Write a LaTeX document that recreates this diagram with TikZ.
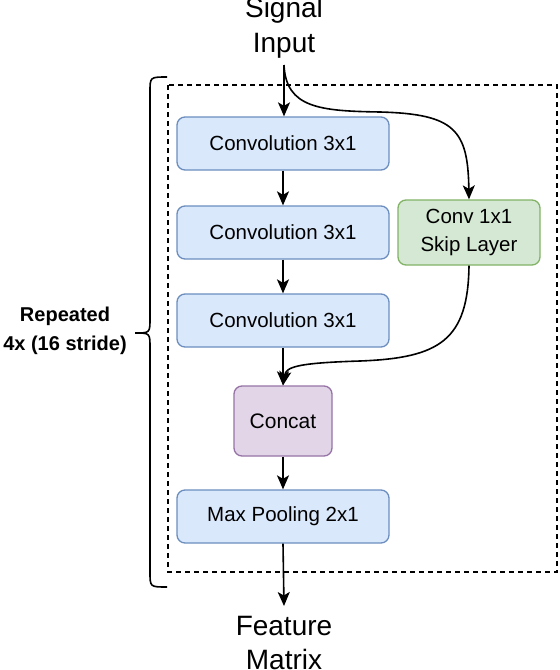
\documentclass[tikz,border=0pt]{standalone}
\usepackage{fontspec}
\setmainfont{Liberation Sans}
\usetikzlibrary{arrows.meta}
\definecolor{bluefill}{HTML}{DAE8FC}
\definecolor{bluedraw}{HTML}{6C8EBF}
\definecolor{greenfill}{HTML}{D5E8D4}
\definecolor{greendraw}{HTML}{82B366}
\definecolor{purplefill}{HTML}{E1D5E7}
\definecolor{purpledraw}{HTML}{9673A6}
\begin{document}
\begin{tikzpicture}[x=1pt,y=-1pt,
  blk/.style={draw=bluedraw,fill=bluefill,line width=1.3pt,rounded corners=8pt,minimum width=212pt,minimum height=53pt,inner sep=0pt,font=\fontsize{20.5}{24}\selectfont},
  skipbox/.style={draw=greendraw,fill=greenfill,line width=1.3pt,rounded corners=8pt,minimum width=142pt,minimum height=65pt,inner sep=0pt,align=center,font=\fontsize{20.5}{28}\selectfont},
  catbox/.style={draw=purpledraw,fill=purplefill,line width=1.3pt,rounded corners=8pt,minimum width=98pt,minimum height=70pt,inner sep=0pt,font=\fontsize{21}{24}\selectfont},
  bigtxt/.style={align=center,inner sep=0pt,font=\fontsize{28}{34.5}\selectfont},
  conn/.style={line width=1.6pt,-{Stealth[length=14pt,width=12pt,inset=3.5pt]}},
  lin/.style={line width=1.6pt}]
\useasboundingbox (0,0) rectangle (560,670);
\fill[white] (0,0) rectangle (560,670);
% dashed repeat box
\draw[dashed,line width=1.3pt,dash pattern=on 5pt off 4pt] (168,85) rectangle (557,572);
% brace
\draw[lin] (167,77) .. controls (150,77) .. (150,92) -- (150,318)
  .. controls (150,333) .. (135,333) .. controls (150,333) .. (150,348)
  -- (150,572) .. controls (150,587) .. (167,587);
\node[font=\bfseries\fontsize{20}{29}\selectfont,align=center,inner sep=0pt] (rep) at (65,331) {Repeated\\4x (16 stride)};
% nodes
\node[bigtxt] (input) at (284,28) {Signal\\Input};
\coordinate (instart) at (284,65);
\node[blk] (c1) at (283,143.5) {Convolution 3x1};
\node[blk] (c2) at (283,232.5) {Convolution 3x1};
\node[blk] (c3) at (283,320.5) {Convolution 3x1};
\node[skipbox] (skip) at (469,232.5) {Conv 1x1\\Skip Layer};
\node[catbox] (cat) at (283,421) {Concat};
\node[blk] (mp) at (283,516.5) {Max Pooling 2x1};
\node[bigtxt] (out) at (284,643) {Feature\\Matrix};
% connectors
\draw[conn] (instart) -- (instart |- c1.north);
\draw[conn] (instart) .. controls (286,108) and (320,111) .. (380,112)
  .. controls (455,114) and (468,130) .. (skip.north);
\draw[conn] (c1) -- (c2);
\draw[conn] (c2) -- (c3);
\draw[conn] (c3) -- (cat);
\draw[conn] (skip.south) .. controls (468,340) and (440,358) .. (360,361)
  .. controls (296,363) and (286,367) .. (cat.north);
\draw[conn] (cat) -- (mp);
\draw[conn] (mp.south) -- (284,606);
\end{tikzpicture}
\end{document}
